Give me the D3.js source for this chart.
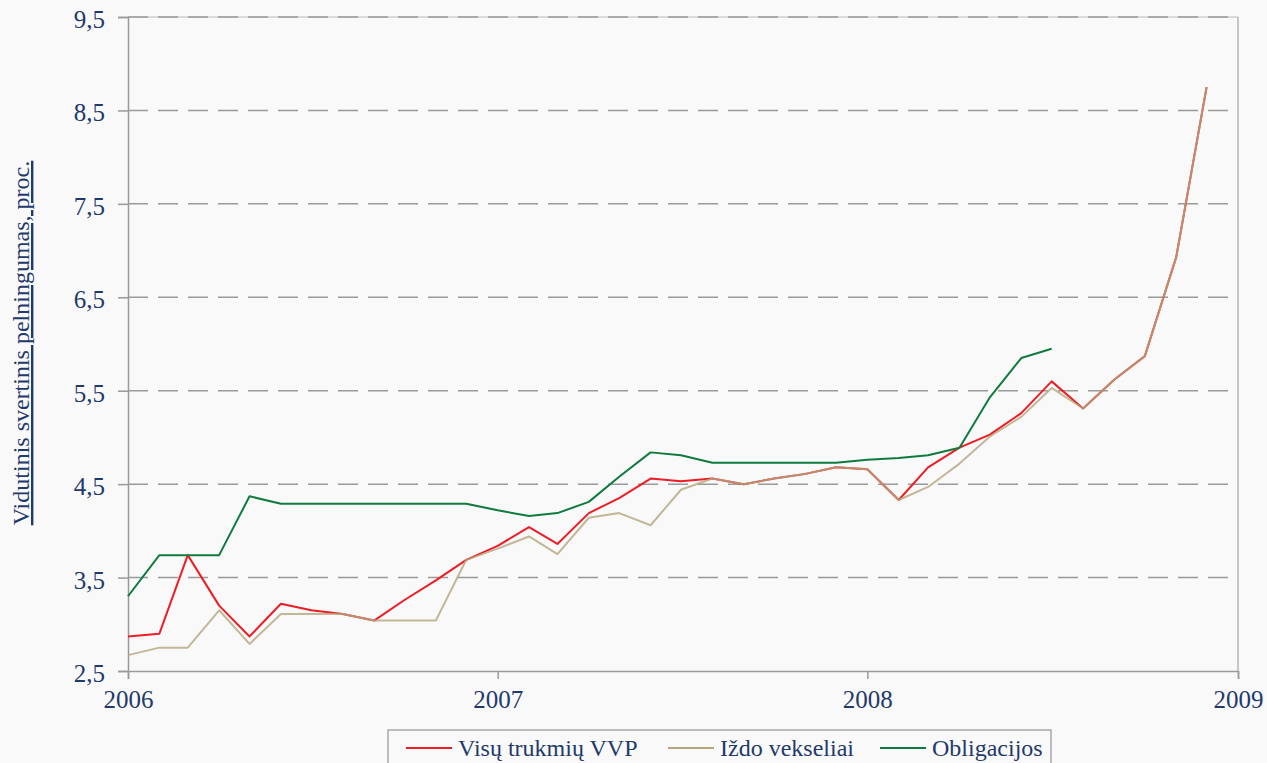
<!DOCTYPE html>
<html>
<head>
<meta charset="utf-8">
<script src="https://cdn.jsdelivr.net/npm/d3@7"></script>
<style>
  html, body { margin: 0; padding: 0; background: #f9f9f9; }
  svg { display: block; }
</style>
</head>
<body>
<div id="chart"></div>
<script>
// monthly observations, starting January 2006
const startYear = 2006
const vvp = [2.87, 2.90, 3.74, 3.20, 2.87, 3.22, 3.15, 3.11, 3.04, 3.26, 3.47, 3.69,
             3.84, 4.04, 3.86, 4.19, 4.35, 4.56, 4.53, 4.56, 4.50, 4.56, 4.61, 4.68,
             4.66, 4.33, 4.68, 4.89, 5.03, 5.26, 5.60, 5.31, 5.62, 5.87, 6.93, 8.75]
const vekseliai = [2.67, 2.75, 2.75, 3.15, 2.79, 3.11, 3.11, 3.11, 3.04, 3.04, 3.04, 3.69,
                   3.81, 3.94, 3.75, 4.14, 4.19, 4.06, 4.44, 4.56, 4.50, 4.56, 4.61, 4.68,
                   4.66, 4.33, 4.47, 4.72, 5.01, 5.22, 5.53, 5.31, 5.62, 5.87, 6.93, 8.75]
const obligacijos = [3.30, 3.74, 3.74, 3.74, 4.37, 4.29, 4.29, 4.29, 4.29, 4.29, 4.29, 4.29,
                     4.22, 4.16, 4.19, 4.31, 4.58, 4.84, 4.81, 4.73, 4.73, 4.73, 4.73, 4.73,
                     4.76, 4.78, 4.81, 4.89, 5.43, 5.85, 5.95]
const yTicks = [2.5, 3.5, 4.5, 5.5, 6.5, 7.5, 8.5, 9.5]
const xTicks = [2006, 2007, 2008, 2009]
const seriesNames = ['Visų trukmių VVP', 'Iždo vekseliai', 'Obligacijos']
const yTitle = 'Vidutinis svertinis pelningumas, proc.'

const width = 1267
const height = 763
const margin = {top: 17, right: 29, bottom: 92, left: 128}
const textColor = '#1f3a6b'
const font = '"Liberation Serif", "Times New Roman", serif'

const series = [
    {name: seriesNames[0], values: vvp, color: '#ee1c24', opacity: 1},
    {name: seriesNames[1], values: vekseliai, color: '#b4a67e', opacity: 0.8},
    {name: seriesNames[2], values: obligacijos, color: '#0f7b3f', opacity: 1}
]

const xScale = d3.scaleTime()
    .domain([new Date(xTicks[0], 0, 1), new Date(xTicks[xTicks.length - 1], 0, 1)])
    .range([margin.left, width - margin.right])
const yScale = d3.scaleLinear()
    .domain([yTicks[0], yTicks[yTicks.length - 1]])
    .range([height - margin.bottom, margin.top])

const svg = d3.select('#chart')
    .append('svg')
    .attr('width', width)
    .attr('height', height)
    .style('font-family', font)

// top frame line, lighter than the grid
svg.append('line')
    .attr('x1', margin.left).attr('x2', width - margin.right)
    .attr('y1', margin.top).attr('y2', margin.top)
    .attr('stroke', '#cfcfcf').attr('stroke-width', 1.5)

// dashed horizontal grid
svg.append('g')
    .selectAll('line')
    .data(yTicks.slice(1))
    .enter()
    .append('line')
    .attr('x1', margin.left)
    .attr('x2', width - margin.right)
    .attr('y1', (d) => yScale(d))
    .attr('y2', (d) => yScale(d))
    .attr('stroke', '#9a9a9a')
    .attr('stroke-width', 1.5)
    .attr('stroke-dasharray', '20,10')

// right frame line
svg.append('line')
    .attr('x1', width - margin.right).attr('x2', width - margin.right)
    .attr('y1', margin.top).attr('y2', height - margin.bottom)
    .attr('stroke', '#b4b4b4').attr('stroke-width', 1.5)

const yAxis = d3.axisLeft(yScale)
    .tickValues(yTicks)
    .tickSize(10)
    .tickPadding(13)
    .tickFormat((d) => d3.format('.1f')(d).replace('.', ','))
const xAxis = d3.axisBottom(xScale)
    .tickValues(xTicks.map((y) => new Date(y, 0, 1)))
    .tickSize(8)
    .tickPadding(11)
    .tickFormat(d3.timeFormat('%Y'))

const gy = svg.append('g')
    .attr('transform', `translate(${margin.left}, 0)`)
    .call(yAxis)
gy.selectAll('text').attr('dy', '0.42em')

const gx = svg.append('g')
    .attr('transform', `translate(0, ${height - margin.bottom})`)
    .call(xAxis)

;[gx, gy].forEach((g) => {
    g.attr('font-family', font).attr('font-size', 25)
    g.select('.domain').attr('stroke', '#9a9a9a').attr('stroke-width', 1.5)
    g.selectAll('.tick line').attr('stroke', '#9a9a9a').attr('stroke-width', 1.5)
    g.selectAll('text')
        .attr('fill', textColor)
        .style('font-family', font)
        .style('font-size', '25px')
})

const line = d3.line()
    .x((d, i) => xScale(new Date(startYear, i, 1)))
    .y((d) => yScale(d))

svg.append('g')
    .selectAll('path')
    .data(series)
    .enter()
    .append('path')
    .attr('d', (d) => line(d.values))
    .attr('fill', 'none')
    .attr('stroke', (d) => d.color)
    .attr('stroke-opacity', (d) => d.opacity)
    .attr('stroke-width', 2)
    .attr('stroke-linejoin', 'round')

// y title
svg.append('text')
    .attr('transform', 'translate(29, 343) rotate(-90)')
    .attr('text-anchor', 'middle')
    .attr('fill', textColor)
    .style('font-size', '24px')
    .style('text-decoration', 'underline')
    .text(yTitle)

// legend
const legend = svg.append('g')
legend.append('rect')
    .attr('x', 388).attr('y', 730)
    .attr('width', 663).attr('height', 50)
    .attr('fill', '#f9f9f9')
    .attr('stroke', '#a8a8a8').attr('stroke-width', 1.5)

const legendX = [406, 668, 880]
const item = legend.selectAll('g.item')
    .data(series)
    .enter()
    .append('g')
    .attr('class', 'item')
    .attr('transform', (d, i) => `translate(${legendX[i]}, 748)`)
item.append('line')
    .attr('x1', 0).attr('x2', 46)
    .attr('stroke', (d) => d.color)
    .attr('stroke-width', 2)
item.append('text')
    .attr('x', 52)
    .attr('dy', '0.35em')
    .attr('fill', textColor)
    .style('font-size', '24px')
    .text((d) => d.name)
</script>
</body>
</html>
